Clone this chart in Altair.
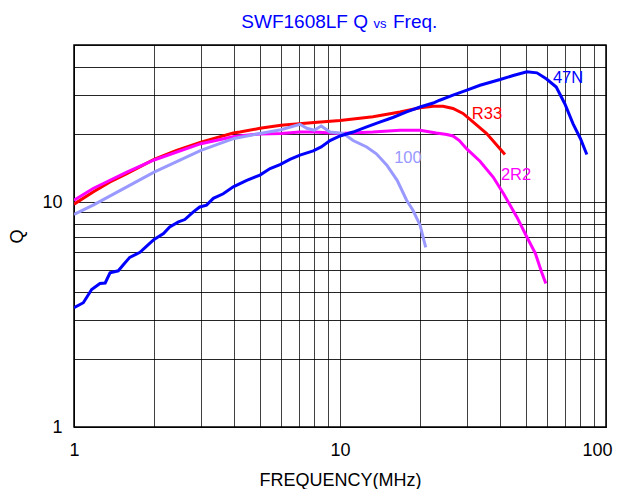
import altair as alt
import pandas as pd

# ---- data ----
f_47N = [1.0, 1.084, 1.165, 1.252, 1.31, 1.366, 1.467, 1.53, 1.62, 1.77, 1.876, 2.0, 2.17, 2.29, 2.47, 2.61,
         2.81, 2.97, 3.15, 3.34, 3.64, 3.97, 4.46, 5.0, 5.46, 5.95, 6.48, 7.07, 7.93, 8.5, 9.17, 10.0, 11.2,
         12.6, 14.1, 15.8, 17.8, 20.0, 22.4, 23.7, 26.6, 30.0, 33.6, 40.0, 44.8, 50.4, 55.0, 59.8, 65.0,
         70.0, 75.2, 80.1, 84.7]
q_47N = [3.39, 3.57, 4.09, 4.35, 4.37, 4.85, 4.95, 5.25, 5.68, 5.98, 6.37, 6.83, 7.25, 7.76, 8.17, 8.37,
         9.06, 9.52, 9.7, 10.4, 10.9, 11.7, 12.5, 13.2, 14.1, 14.7, 15.5, 16.2, 16.9, 17.6, 18.8, 19.7, 20.5,
         21.6, 22.7, 23.8, 25.2, 26.5, 27.6, 28.4, 29.9, 31.5, 33.1, 35.1, 36.6, 38.0, 37.6, 35.3, 32.5,
         27.4, 22.3, 19.2, 16.3]

f_R33 = [1.0, 1.18, 1.366, 1.58, 2.0, 2.43, 3.0, 3.97, 4.2, 5.0, 6.0, 8.0, 10.0, 13.3, 16.8, 20.0, 22.4,
         24.4, 26.6, 29.0, 31.7, 35.6, 41.7]
q_R33 = [9.8, 11.1, 12.3, 13.4, 15.5, 17.0, 18.5, 20.3, 20.5, 21.3, 22.0, 22.6, 23.1, 24.0, 25.2, 26.3, 26.7,
         26.7, 26.1, 24.8, 22.7, 20.2, 16.3]

f_2R2 = [1.0, 1.18, 1.58, 2.0, 3.0, 4.0, 5.0, 6.0, 7.07, 8.0, 10.0, 13.3, 16.8, 20.0, 23.0, 25.2, 26.6,
         28.1, 29.9, 33.6, 37.7, 41.2, 46.2, 50.4, 54.3, 57.2, 59.4]
q_2R2 = [10.2, 11.5, 13.6, 15.4, 18.2, 19.6, 20.1, 20.2, 20.5, 20.5, 20.2, 20.5, 20.9, 20.9, 20.3, 20.0, 19.7,
         18.8, 17.3, 15.2, 12.9, 10.9, 8.6, 7.0, 5.9, 4.9, 4.35]

f_100 = [1.0, 1.18, 1.58, 2.0, 3.0, 4.0, 5.0, 6.0, 7.07, 7.5, 8.0, 8.5, 9.17, 10.3, 11.2, 12.6, 13.7, 15.0,
         16.4, 17.8, 18.8, 20.0, 21.0]
q_100 = [8.83, 9.7, 11.7, 13.6, 17.0, 19.2, 20.2, 21.0, 22.2, 21.3, 20.9, 21.8, 20.5, 20.2, 18.8, 17.6, 16.4,
         14.6, 12.5, 10.2, 9.2, 7.9, 6.3]

series_names = ["R33", "2R2", "100", "47N"]
series_colors = ["#FF0000", "#FF00FF", "#9999FF", "#0000FF"]
series_f = [f_R33, f_2R2, f_100, f_47N]
series_q = [q_R33, q_2R2, q_100, q_47N]

label_names = ["47N", "R33", "100", "2R2"]
label_f = [72.0, 35.7, 18.0, 45.9]
label_q = [35.6, 24.6, 15.7, 13.2]
label_colors = ["#0000FF", "#FF0000", "#9999FF", "#FF00FF"]

x_grid = [1, 2, 3, 4, 5, 6, 7, 8, 9, 10, 20, 30, 40, 50, 60, 70, 80, 90, 100]
y_grid = [1, 2, 3, 4, 5, 6, 7, 8, 9, 10, 20, 30, 40, 50]

FONT = "Liberation Sans"

xscale = alt.Scale(type="log", domain=[1, 100], nice=False)
yscale = alt.Scale(type="log", domain=[1, 50], nice=False)

x_axis = alt.Axis(values=x_grid, labelExpr="(datum.value == 1 || datum.value == 10 || datum.value == 100) ? format(datum.value, 'd') : ''",
                  labelOverlap=False, labelFlush=False, ticks=False, grid=True, gridColor="#000000", gridWidth=1,
                  labelOffset=alt.condition("datum.value == 100", alt.value(-9), alt.value(0)),
                  gridOpacity=0.75, domainColor="#000000", labelFontSize=18, labelColor="#000000", labelPadding=14,
                  title="FREQUENCY(MHz)", titleFontSize=18, titleFontWeight="normal", titleColor="#000000",
                  titlePadding=12, labelFont=FONT, titleFont=FONT)
y_axis = alt.Axis(values=y_grid, labelExpr="(datum.value == 1 || datum.value == 10) ? format(datum.value, 'd') : ''",
                  labelOverlap=False, labelFlush=False, ticks=False, grid=True, gridColor="#000000", gridWidth=1,
                  gridOpacity=0.85, domainColor="#000000", labelFontSize=18, labelColor="#000000", labelPadding=12,
                  title="Q", titleFontSize=18, titleFontWeight="normal", titleColor="#000000",
                  titlePadding=15, labelFont=FONT, titleFont=FONT)

layers = []
for name, col, fs, qs in zip(series_names, series_colors, series_f, series_q):
    df = pd.DataFrame({"f": fs, "Q": qs, "order": list(range(len(fs)))})
    layers.append(
        alt.Chart(df).mark_line(color=col, strokeWidth=3, clip=True).encode(
            x=alt.X("f:Q", scale=xscale, axis=x_axis),
            y=alt.Y("Q:Q", scale=yscale, axis=y_axis),
            order="order:Q")
    )

lab_df = pd.DataFrame({"name": label_names, "f": label_f, "Q": label_q, "c": label_colors})
labels = alt.Chart(lab_df).mark_text(fontSize=16.5, font=FONT, baseline="middle", align="center").encode(
    x=alt.X("f:Q", scale=xscale, axis=x_axis),
    y=alt.Y("Q:Q", scale=yscale, axis=y_axis),
    text="name:N",
    color=alt.Color("c:N", scale=None),
)

t1 = alt.Chart(pd.DataFrame({"t": ["SWF1608LF Q"]})).mark_text(fontSize=19, font=FONT, color="#0000FF", align="right", baseline="middle").encode(
    x=alt.value(294), y=alt.value(-23), text="t:N")
t2 = alt.Chart(pd.DataFrame({"t": ["vs"]})).mark_text(fontSize=13, font=FONT, color="#0000FF", align="center", baseline="middle").encode(
    x=alt.value(306), y=alt.value(-21), text="t:N")
t3 = alt.Chart(pd.DataFrame({"t": ["Freq."]})).mark_text(fontSize=19, font=FONT, color="#0000FF", align="left", baseline="middle").encode(
    x=alt.value(319), y=alt.value(-23), text="t:N")

chart = alt.layer(*layers, labels, t1, t2, t3).properties(
    width=532, height=382,
    autosize=alt.AutoSizeParams(type="none"),
    padding={"left": 66, "top": 37, "right": 10, "bottom": 62},
).configure(font=FONT).configure_view(stroke="#000000", strokeWidth=1.5)

chart.save("out.html", embed_options={"renderer": "svg", "actions": False})
